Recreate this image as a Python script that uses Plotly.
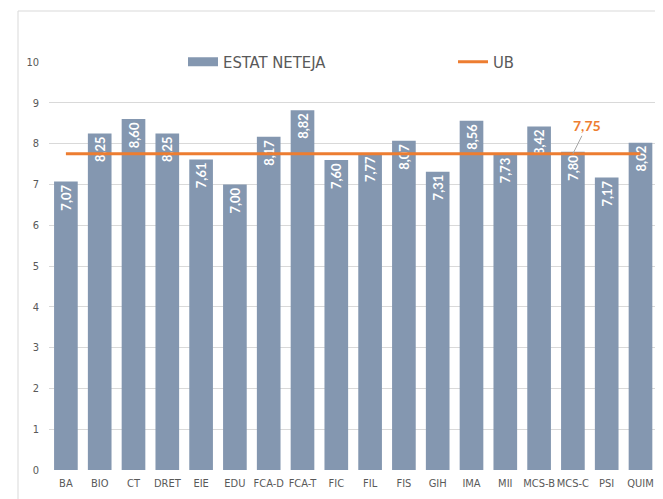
import plotly.graph_objects as go

categories = ["BA", "BIO", "CT", "DRET", "EIE", "EDU", "FCA-D", "FCA-T", "FIC", "FIL",
              "FIS", "GIH", "IMA", "MII", "MCS-B", "MCS-C", "PSI", "QUIM"]
estat_neteja = [7.07, 8.25, 8.60, 8.25, 7.61, 7.00, 8.17, 8.82, 7.60, 7.77,
                8.07, 7.31, 8.56, 7.73, 8.42, 7.80, 7.17, 8.02]
ub_value = 7.75
ub = [ub_value] * len(categories)
y_ticks = [0, 1, 2, 3, 4, 5, 6, 7, 8, 9, 10]

BAR = "#8497B0"
ORANGE = "#ED7D31"
GREY_TXT = "#595959"
FONT = "Lato, 'Open Sans', sans-serif"
NARROW = "'Liberation Sans Narrow', 'DejaVu Sans Condensed', Lato, sans-serif"

# page has an 8px body margin; the plot div is clipped to the body width
OFF = 8
W, H = 663 - 2 * OFF, 499 - OFF
L = 49 - OFF
TOP, BOT = 62 - OFF, 470 - OFF
plot_w = W - L
plot_h = BOT - TOP
cat_w = 33.8

fig = go.Figure()
fig.add_trace(go.Bar(
    x=categories, y=estat_neteja, name="ESTAT NETEJA",
    marker=dict(color=BAR, line=dict(width=0)),
    texttemplate="%{y:.2f}", textposition="inside", insidetextanchor="end",
    textangle=-90, insidetextfont=dict(color="white", size=13, family=FONT, weight="bold"),
    legendgroup="estat", showlegend=False,
))
# legend entry with a wide swatch, as in the original
fig.add_trace(go.Scatter(
    x=[None], y=[None], name="ESTAT NETEJA", mode="lines",
    line=dict(color=BAR, width=9), legendgroup="estat", legend="legend",
))
fig.add_trace(go.Scatter(
    x=categories, y=ub, name="UB", mode="lines",
    line=dict(color=ORANGE, width=3), legend="legend2",
))

fig.add_annotation(
    x=categories[15], y=ub_value, text="<b>7,75</b>", showarrow=True,
    arrowhead=0, arrowwidth=1, arrowcolor="#A6A6A6", ax=14, ay=-28,
    font=dict(color=ORANGE, size=14, family=FONT),
)

# chart area border (extends beyond the visible crop)
fig.add_shape(type="rect", xref="paper", yref="paper",
              x0=(18 - OFF - L) / plot_w, x1=1.1,
              y0=(BOT - 520) / plot_h, y1=(BOT - (11 - OFF)) / plot_h,
              line=dict(color="#D9D9D9", width=1), fillcolor="rgba(0,0,0,0)", layer="below")

fig.update_layout(
    width=W, height=H,
    margin=dict(l=L, r=0, t=TOP, b=H - BOT, autoexpand=False),
    paper_bgcolor="white", plot_bgcolor="white",
    separators=",.",
    bargap=0.3,
    font=dict(family=FONT, color=GREY_TXT, size=11),
    showlegend=True,
    legend=dict(orientation="h", x=(175 - L) / plot_w, xanchor="left", y=1.0, yanchor="middle",
                bgcolor="rgba(0,0,0,0)", font=dict(size=16.5, color=GREY_TXT, family=NARROW),
                itemwidth=30, tracegroupgap=0),
    legend2=dict(orientation="h", x=(445 - L) / plot_w, xanchor="left", y=1.0, yanchor="middle",
                 bgcolor="rgba(0,0,0,0)", font=dict(size=16.5, color=GREY_TXT, family=NARROW),
                 itemwidth=30),
    xaxis=dict(range=[-0.5, -0.5 + plot_w / cat_w], showgrid=False, showline=False,
               ticks="", tickangle=0, automargin=False,
               tickfont=dict(size=11, color=GREY_TXT, family=NARROW), ticklabelstandoff=5),
    yaxis=dict(range=[0, 10], tickvals=y_ticks, showgrid=True, gridcolor="#D9D9D9",
               gridwidth=1, zeroline=False, showline=False, ticks="", automargin=False,
               tickfont=dict(size=11, color=GREY_TXT, family=NARROW), ticklabelstandoff=9),
)

fig.write_html("out.html")
